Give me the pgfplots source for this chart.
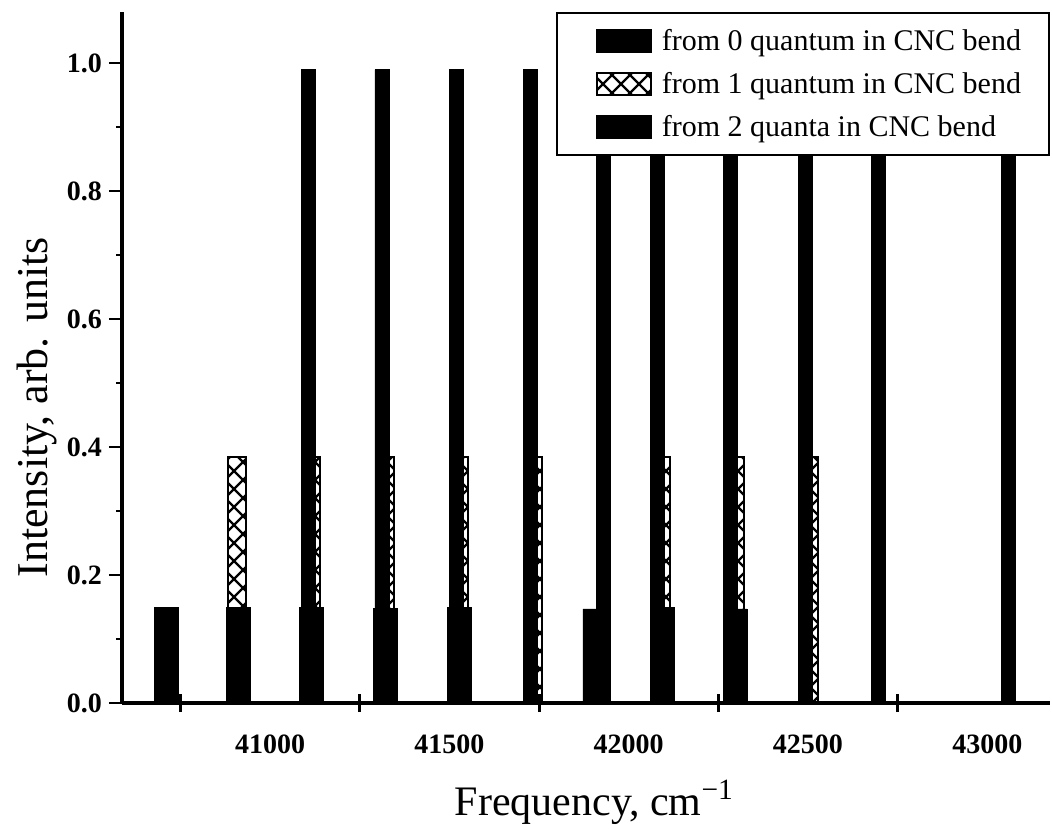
\documentclass[border=0pt]{standalone}
\usepackage{fontspec}
\setmainfont{Liberation Serif}
\usepackage{pgfplots}
\pgfplotsset{compat=1.18}
\usetikzlibrary{patterns}

% coarse diagonal cross-hatch, as in the scanned figure
\pgfdeclarepatternformonly{bigcross}{\pgfqpoint{-1pt}{-1pt}}{\pgfqpoint{10pt}{10pt}}{\pgfqpoint{9pt}{9pt}}{%
  \pgfsetlinewidth{1.2pt}%
  \pgfpathmoveto{\pgfqpoint{0pt}{0pt}}\pgfpathlineto{\pgfqpoint{9pt}{9pt}}%
  \pgfpathmoveto{\pgfqpoint{0pt}{9pt}}\pgfpathlineto{\pgfqpoint{9pt}{0pt}}%
  \pgfusepath{stroke}}

\begin{document}
\begin{tikzpicture}
\path[use as bounding box] (0,0) rectangle (526pt,415.5pt);
\begin{axis}[
    at={(61pt,64pt)}, anchor=south west,
    scale only axis,
    width=464pt, height=345.5pt,
    xmin=40587, xmax=43175,
    ymin=0, ymax=1.08,
    axis x line*=bottom, axis y line*=left,
    axis line style={line width=1.6pt},
    xtick={41000,41500,42000,42500,43000},
    xtick style={draw=none},
    extra x ticks={40750,41250,41750,42250,42750},
    extra x tick labels={},
    extra x tick style={tick align=center, major tick length=9pt,
        xtick style={draw=black, line width=1.5pt}},
    ytick={0,0.2,0.4,0.6,0.8,1.0},
    minor y tick num=1,
    tick align=outside,
    major tick length=6.5pt, minor tick length=3pt,
    ytick style={line width=1.2pt, draw=black},
    /pgf/number format/assume math mode=true,
    /pgf/number format/1000 sep={},
    scaled x ticks=false,
    ticklabel style={font=\fontsize{14}{16}\selectfont\bfseries},
    xticklabel style={yshift=-6pt},
    yticklabel style={/pgf/number format/fixed, /pgf/number format/fixed zerofill,
        /pgf/number format/precision=1},
    xlabel={Frequency, cm\textsuperscript{−1}},
    xlabel style={font=\fontsize{21}{25}\selectfont,
        at={(axis description cs:0.509,-0.1621)}, anchor=base},
    ylabel={Intensity, arb. units},
    ylabel style={font=\fontsize{22}{26}\selectfont,
        at={(axis description cs:-0.0808,0.428)}, anchor=base},
    legend image code/.code={%
        \path[draw=none, fill=none, pattern=none] (0pt,0pt) -- (38.5pt,0pt);
        \draw[#1] (8pt,-5.5pt) rectangle (35pt,5.5pt);},
    legend cell align=left,
    legend style={at={(1,1)}, anchor=north east, draw=black, line width=1pt,
        fill=white, font=\fontsize{15}{18}\selectfont,
        inner xsep=12pt, inner ysep=6pt, row sep=5.5pt},
]
% from 1 quantum (cross-hatched), drawn first
\addplot[ybar, bar width=50, bar shift=0pt, draw=black, line width=1pt,
    pattern=bigcross, forget plot] coordinates {
    (40908,0.385) (41114,0.385) (41321,0.385) (41527,0.385)
    (41734,0.385) (42091,0.385) (42297,0.385) (42503,0.385)
};
% from 2 quanta
\addplot[ybar, bar width=39, bar shift=0pt, draw=black, fill=black, forget plot] coordinates {
    (41106,0.99) (41312,0.99) (41519,0.99) (41725,0.99) (41930,0.99)
    (42081,0.99) (42283,0.99) (42492,0.99) (42697,0.99) (43060,0.99)
};
% from 0 quantum
\addplot[ybar, bar width=67, bar shift=0pt, draw=black, fill=black, forget plot] coordinates {
    (40711,0.15) (40912,0.15) (41116,0.15) (41322,0.148) (41529,0.15)
    (41906,0.147) (42093,0.15) (42297,0.147)
};

\addlegendimage{fill=black, draw=black}
\addlegendentry{from 0 quantum in CNC bend}
\addlegendimage{pattern=bigcross, draw=black, line width=1pt}
\addlegendentry{from 1 quantum in CNC bend}
\addlegendimage{fill=black, draw=black}
\addlegendentry{from 2 quanta in CNC bend}
\end{axis}
\end{tikzpicture}
\end{document}
